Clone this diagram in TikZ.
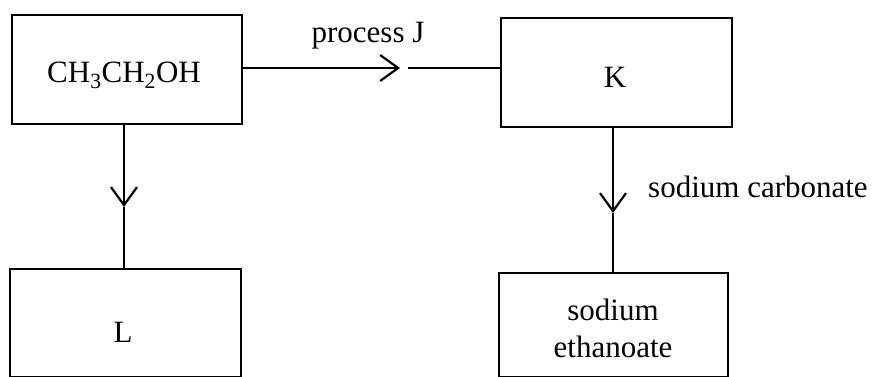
\documentclass[tikz,border=0pt]{standalone}
\usepackage{fontspec}
\setmainfont{Liberation Serif}
\usetikzlibrary{arrows.meta}
\begin{document}
\begin{tikzpicture}[x=1pt,y=-1pt,
  box/.style={draw, line width=2.4pt, inner sep=0pt},
  txt/.style={font=\fontsize{31}{37}\selectfont, inner sep=0pt, anchor=base},
  conn/.style={line width=2.2pt},
  barb/.style={conn, -{Straight Barb[length=18pt,width=26pt]}}]
\useasboundingbox (0,0) rectangle (877,377);
% boxes
\node[box, minimum width=230pt, minimum height=109pt] (A) at (127,69.5) {};
\node[box, minimum width=231pt, minimum height=109pt] (K) at (616.5,72.5) {};
\node[box, minimum width=231pt, minimum height=108pt] (L) at (125.5,323) {};
\node[box, minimum width=229pt, minimum height=104pt] (S) at (613.5,325) {};
% texts
\node[txt] (tA) at (124,83) {CH\textsubscript{3}CH\textsubscript{2}OH};
\node[txt] (tK) at (615,88) {K};
\node[txt] (tL) at (123,342) {L};
\node[txt] (tS1) at (613,320) {sodium};
\node[txt] (tS2) at (613,357) {ethanoate};
\node[txt] (pJ) at (368,43) {process J};
\node[txt, anchor=base west] (sc) at (648,197) {sodium carbonate};
% connectors
\coordinate (tipJ) at (400,68);
\coordinate (resJ) at (408,68);
\draw[barb] (A.east |- tipJ) -- (tipJ);
\draw[conn] (resJ) -- (K.west |- resJ);
\coordinate (tipL) at (124,207);
\draw[barb] (A.south -| tipL) -- (tipL);
\draw[conn] (tipL) -- (L.north -| tipL);
\coordinate (tipS) at (613,213);
\draw[barb] (K.south -| tipS) -- (tipS);
\draw[conn] (tipS) -- (S.north -| tipS);
\end{tikzpicture}
\end{document}
